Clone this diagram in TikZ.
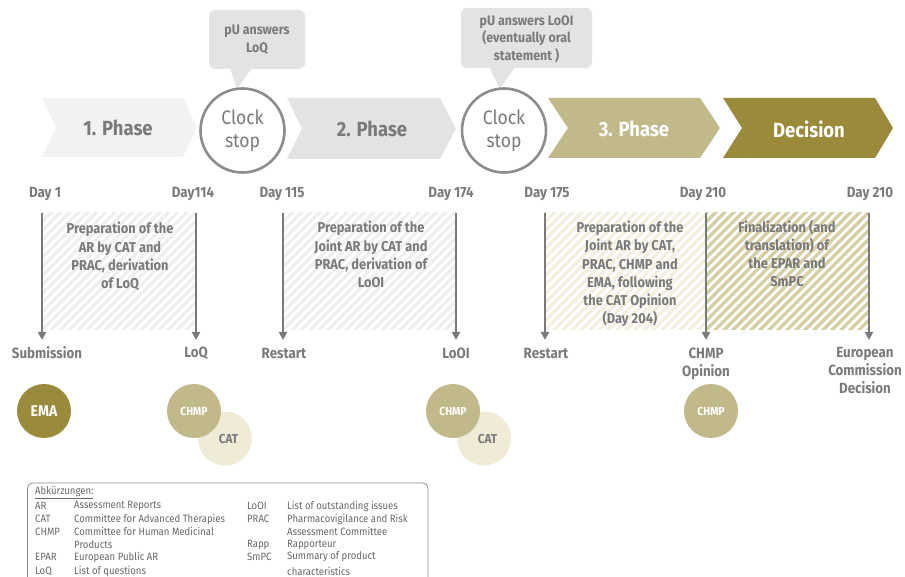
\documentclass[tikz,border=0pt]{standalone}
\usepackage{fontspec}
\setmainfont{Fira Sans}[FakeStretch=0.9]
\usetikzlibrary{arrows.meta}
\definecolor{chevA}{HTML}{F2F2F2}
\definecolor{chevB}{HTML}{E3E3E3}
\definecolor{chevC}{HTML}{C2B98A}
\definecolor{chevD}{HTML}{9A8A3A}
\definecolor{callfill}{HTML}{E3E3E3}
\definecolor{txtgray}{HTML}{7A7A7A}
\definecolor{arrgray}{HTML}{7A7A7A}
\definecolor{circgray}{HTML}{8C8C8C}
\definecolor{emacol}{HTML}{998B3B}
\definecolor{chmpcol}{HTML}{C2B98A}
\definecolor{catcol}{HTML}{EFEBD6}
\definecolor{hatchA}{HTML}{EFEFEF}
\definecolor{hatchC}{HTML}{F3F0E1}
\definecolor{hatchD}{HTML}{D6CEA6}
\definecolor{leggray}{HTML}{666666}
\newcommand\hatchregion[5]{%
  \begin{scope}
    \clip (#1,#3) rectangle (#2,#4);
    \foreach \i in {-140,-131,...,200}
      \draw[line width=3.2pt,#5] (#1+\i,#4+5) -- ++(140,-140);
  \end{scope}}
\begin{document}
\begin{tikzpicture}[x=1pt,y=-1pt,
  phasetxt/.style={font=\bfseries\fontsize{20.5}{22}\selectfont},
  clocktxt/.style={circle,draw=circgray,line width=2.6pt,fill=white,minimum size=84pt,inner sep=0pt,align=center,text=txtgray,font=\fontsize{19.5}{23}\selectfont},
  calltxt/.style={align=center,text=txtgray,font=\bfseries\fontsize{13.8}{17.5}\selectfont},
  daytxt/.style={text=txtgray,font=\bfseries\fontsize{14.8}{18}\selectfont},
  regtxt/.style={align=center,text=txtgray,font=\bfseries\fontsize{14.3}{18.2}\selectfont},
  arr/.style={draw=arrgray,line width=2.4pt,-{Triangle[width=8pt,length=8pt]}},
  orgcirc/.style={circle,minimum size=54pt,inner sep=0pt,font=\bfseries\fontsize{11.6}{12}\selectfont},
  legtxt/.style={anchor=west,text=leggray,inner sep=0pt,font=\fontsize{10.6}{12}\selectfont}]
\useasboundingbox (0,0) rectangle (905,577);
\clip (0,0) rectangle (905,577);

% chevrons
\fill[chevA] (42,98) -- (183,98) -- (197,127.5) -- (183,157) -- (42,157) -- (56,127.5) -- cycle;
\fill[chevB] (287,98) -- (440,98) -- (456,128.5) -- (440,159) -- (287,159) -- (302,128.5) -- cycle;
\fill[chevC] (548,98) -- (700,98) -- (720,128) -- (700,158) -- (548,158) -- (568,128) -- cycle;
\fill[chevD] (723,98) -- (875,98) -- (893,128) -- (875,158) -- (723,158) -- (742,128) -- cycle;
\node[phasetxt,text=txtgray] (p1) at (118,128) {1. Phase};
\node[phasetxt,text=txtgray] (p2) at (372,129) {2. Phase};
\node[phasetxt,text=white] (p3) at (634,129) {3. Phase};
\node[phasetxt,text=white] (p4) at (809,129) {Decision};

% callouts
\fill[callfill,rounded corners=6pt] (209,10) rectangle (305,69);
\fill[callfill] (230,68) -- (252,68) -- (237,89) -- cycle;
\node[calltxt] (c1) at (257,39.5) {pU answers\\LoQ};
\fill[callfill,rounded corners=6pt] (461,8) rectangle (592,68);
\fill[callfill] (489,67) -- (515,67) -- (500,89) -- cycle;
\node[calltxt] (c2) at (526.5,39) {pU answers LoOI\\(eventually oral\\statement )};

% clock stops
\node[clocktxt] (cs1) at (242.5,130.5) {Clock\\stop};
\node[clocktxt] (cs2) at (504,130.5) {Clock\\stop};

% hatched regions
\hatchregion{42}{196}{213}{330}{hatchA}
\hatchregion{283}{456}{213}{330}{hatchA}
\hatchregion{545}{706}{213}{330}{hatchC}
\hatchregion{706}{869}{213}{330}{hatchD}

% day labels
\node[daytxt] (d1) at (45,194) {Day 1};
\node[daytxt] (d2) at (193,194) {Day114};
\node[daytxt] (d3) at (282,194) {Day 115};
\node[daytxt] (d4) at (451,194) {Day 174};
\node[daytxt] (d5) at (547,194) {Day 175};
\node[daytxt] (d6) at (703,194) {Day 210};
\node[daytxt] (d7) at (870,194) {Day 210};

% arrows
\foreach \n/\x in {1/42,2/196,3/283,4/456,5/545,6/706,7/869}{
  \coordinate (as\n) at (\x,213);
  \coordinate (ae\n) at (\x,340);
  \draw[arr] (as\n) -- (ae\n);
}

% region texts
\node[regtxt] (r1) at (120,256.5) {Preparation of the\\AR by CAT and\\PRAC, derivation\\of LoQ};
\node[regtxt] (r2) at (371,254.5) {Preparation of the\\Joint AR by CAT and\\PRAC, derivation of\\LoOI};
\node[regtxt] (r3) at (630,274) {Preparation of the\\Joint AR by CAT,\\PRAC, CHMP and\\EMA, following\\the CAT Opinion\\(Day 204)};
\node[regtxt] (r4) at (787,253.5) {Finalization (and\\translation) of\\the EPAR and\\SmPC};

% bottom labels
\node[daytxt] (b1) at (47,353) {Submission};
\node[daytxt] (b2) at (196,353) {LoQ};
\node[daytxt] (b3) at (284,353) {Restart};
\node[daytxt] (b4) at (456,353) {LoOI};
\node[daytxt] (b5) at (546,353) {Restart};
\node[daytxt,align=center,anchor=north] (b6) at (706,344) {CHMP\\Opinion};
\node[daytxt,align=center,anchor=north] (b7) at (865,344) {European\\Commission\\Decision};

% organisation circles
\node[orgcirc,fill=emacol,text=white,font=\bfseries\fontsize{15.5}{16}\selectfont] (ema) at (44,411) {EMA};
\node[orgcirc,fill=catcol,text=txtgray,font=\bfseries\fontsize{13}{14}\selectfont] (cat1) at (225,438.5) {\hspace*{7pt}CAT};
\node[orgcirc,fill=chmpcol,text=white] (chmp1) at (194,411) {CHMP};
\node[orgcirc,fill=catcol,text=txtgray,font=\bfseries\fontsize{13}{14}\selectfont] (cat2) at (484,438.5) {\hspace*{7pt}CAT};
\node[orgcirc,fill=chmpcol,text=white] (chmp2) at (453,411) {CHMP};
\node[orgcirc,fill=chmpcol,text=white] (chmp3) at (711,411) {CHMP};

% legend
\draw[draw=circgray,line width=0.8pt,rounded corners=5pt] (27.5,483) rectangle (428,600);
\node[legtxt] (lh) at (35,493) {\underline{Abkürzungen:}};
\node[legtxt] (la1) at (35,506) {AR};
\node[legtxt] (ld1) at (74,506) {Assessment Reports};
\node[legtxt] (la2) at (35,519) {CAT};
\node[legtxt] (ld2) at (74,519) {Committee for Advanced Therapies};
\node[legtxt] (la3) at (35,531.5) {CHMP};
\node[legtxt] (ld3) at (74,531.5) {Committee for Human Medicinal};
\node[legtxt] (ld3b) at (74,544.5) {Products};
\node[legtxt] (la4) at (35,557) {EPAR};
\node[legtxt] (ld4) at (74,557) {European Public AR};
\node[legtxt] (la5) at (35,571) {LoQ};
\node[legtxt] (ld5) at (74,571) {List of questions};
\node[legtxt] (lb1) at (247,506) {LoOI};
\node[legtxt] (le1) at (287,506) {List of outstanding issues};
\node[legtxt] (lb2) at (247,519) {PRAC};
\node[legtxt] (le2) at (287,519) {Pharmacovigilance and Risk};
\node[legtxt] (le2b) at (287,531.5) {Assessment Committee};
\node[legtxt] (lb3) at (247,544.5) {Rapp};
\node[legtxt] (le3) at (287,544.5) {Rapporteur};
\node[legtxt] (lb4) at (247,557) {SmPC};
\node[legtxt] (le4) at (287,557) {Summary of product};
\node[legtxt] (le4b) at (287,571) {characteristics};
\end{tikzpicture}
\end{document}
